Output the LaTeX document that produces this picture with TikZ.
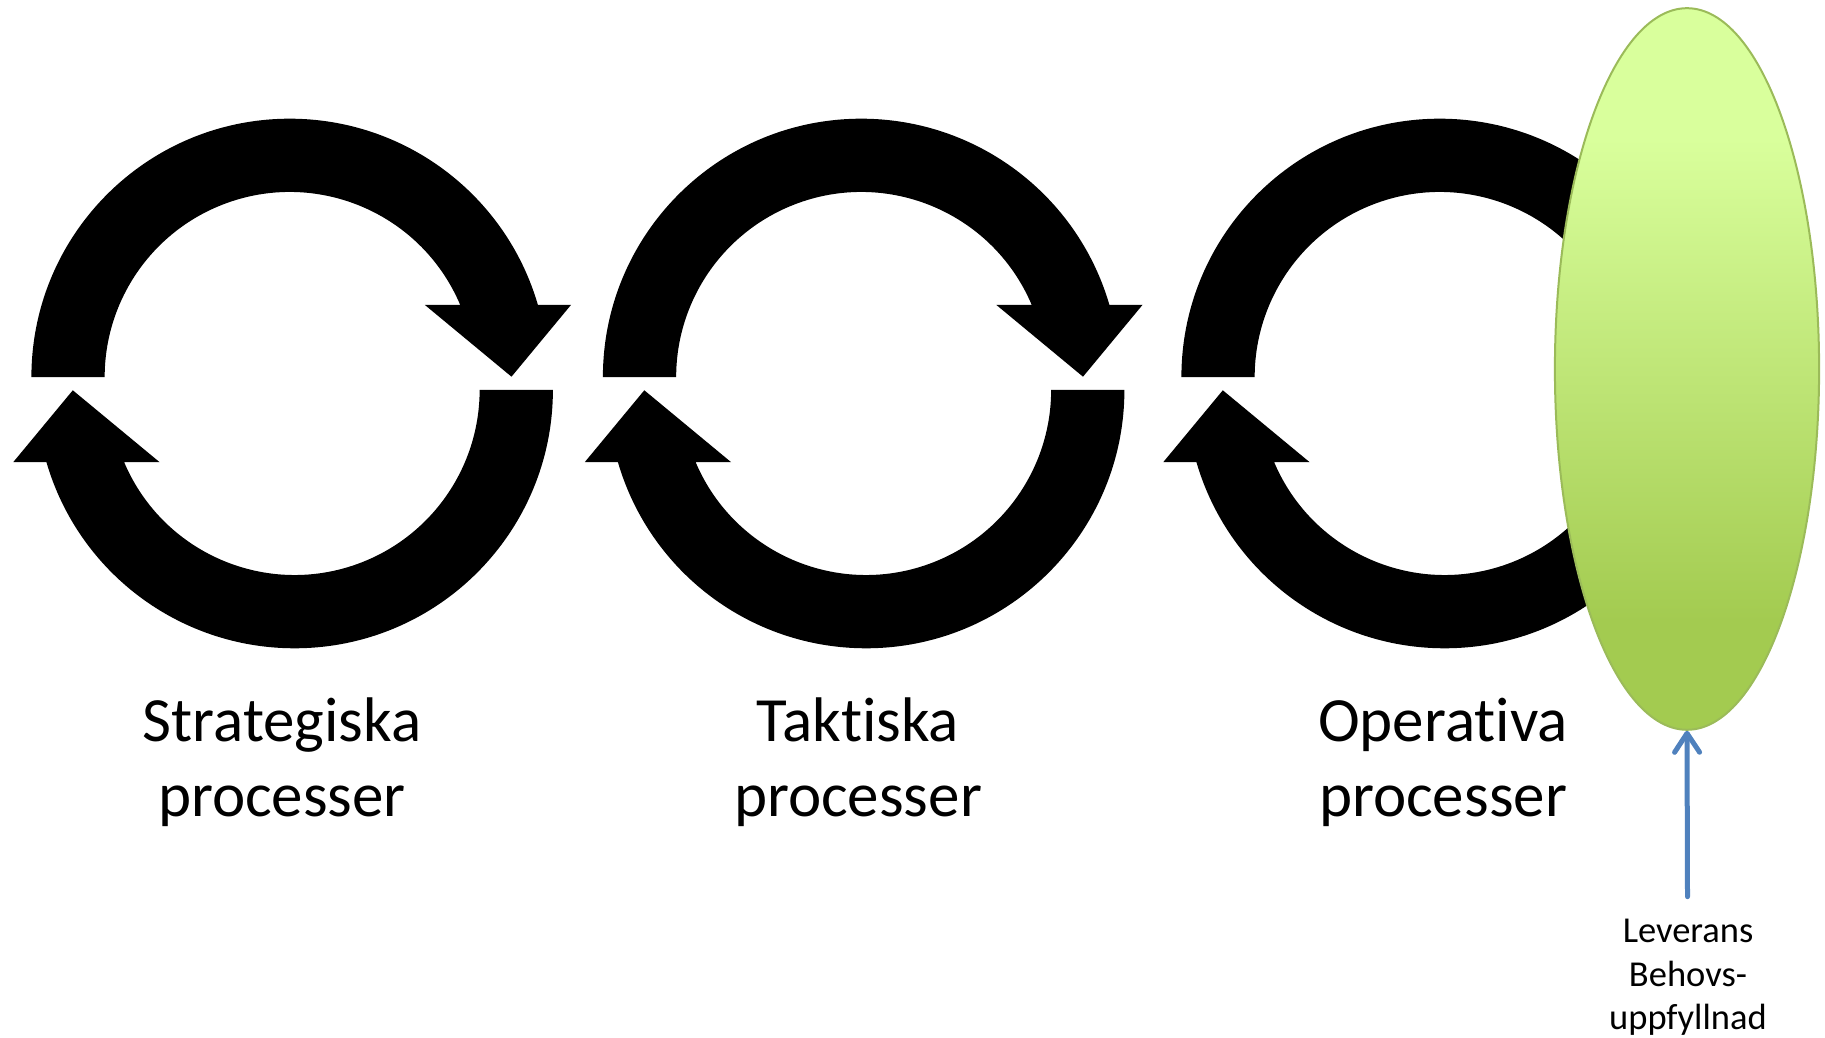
\documentclass[tikz,border=0pt]{standalone}
\usepackage{fontspec}
\setmainfont{Carlito}[Ligatures=NoCommon]
\usetikzlibrary{arrows.meta,shapes.geometric}
\definecolor{elltop}{RGB}{217,255,156}
\definecolor{ellbot}{RGB}{163,203,80}
\definecolor{ellline}{RGB}{155,187,89}
\definecolor{arrblue}{RGB}{79,129,189}
\pgfdeclareverticalshading{ellshade}{100bp}{color(0bp)=(ellbot); color(32.5bp)=(ellbot); color(66bp)=(elltop); color(100bp)=(elltop)}
\tikzset{
  toparc/.style={insert path={(-258.4,0) arc[start angle=180,end angle=16.22,radius=258.4pt] -- (281.2,72.2) -- (221.7,0.4) -- (135,72.2) -- (170.4,72.2) arc[start angle=22.96,end angle=180,radius=185.1pt] -- cycle}},
  botarc/.style={insert path={(258.4,0) arc[start angle=0,end angle=-163.78,radius=258.4pt] -- (-281.2,-72.2) -- (-221.7,-0.4) -- (-135,-72.2) -- (-170.4,-72.2) arc[start angle=-157.04,end angle=0,radius=185.1pt] -- cycle}},
  cyc/.style={fill=black},
  lbl/.style={align=center,font=\fontsize{63}{75}\selectfont,anchor=base,inner sep=0pt},
  smalllbl/.style={align=center,font=\fontsize{36.5}{43.6}\selectfont,anchor=base,inner sep=0pt},
  ellbox/.style={ellipse,draw=ellline,line width=2pt,shading=ellshade,minimum width=264.2pt,minimum height=721.6pt,inner sep=0pt},
  bluearrow/.style={draw=arrblue,line width=5pt,line cap=round,-{Straight Barb[length=19pt,width=25pt,round]}}
}
\begin{document}
\begin{tikzpicture}[x=1pt,y=1pt]
\useasboundingbox (0,0) rectangle (1825,1038);
% cycles
\fill[cyc,shift={(289.8,660.9)}][toparc];
\fill[cyc,shift={(294.5,648.1)}][botarc];
\fill[cyc,shift={(861.3,660.9)}][toparc];
\fill[cyc,shift={(866.0,648.1)}][botarc];
\fill[cyc,shift={(1439.8,660.9)}][toparc];
\fill[cyc,shift={(1444.5,648.1)}][botarc];
% ellipse
\node[ellbox] (ell) at (1687,669) {};
\coordinate (src) at (1687.5,141.3);
\draw[bluearrow] (src) -- (ell.south);
% labels (base anchor = baseline of the last line)
\node[lbl] (strat) at (282,221) {Strategiska\\processer};
\node[lbl] (takt) at (858,221) {Taktiska\\processer};
\node[lbl] (oper) at (1443,221) {Operativa\\processer};
\node[smalllbl] (lev) at (1688,8) {Leverans\\Behovs-\\uppfyllnad};
\end{tikzpicture}
\end{document}
